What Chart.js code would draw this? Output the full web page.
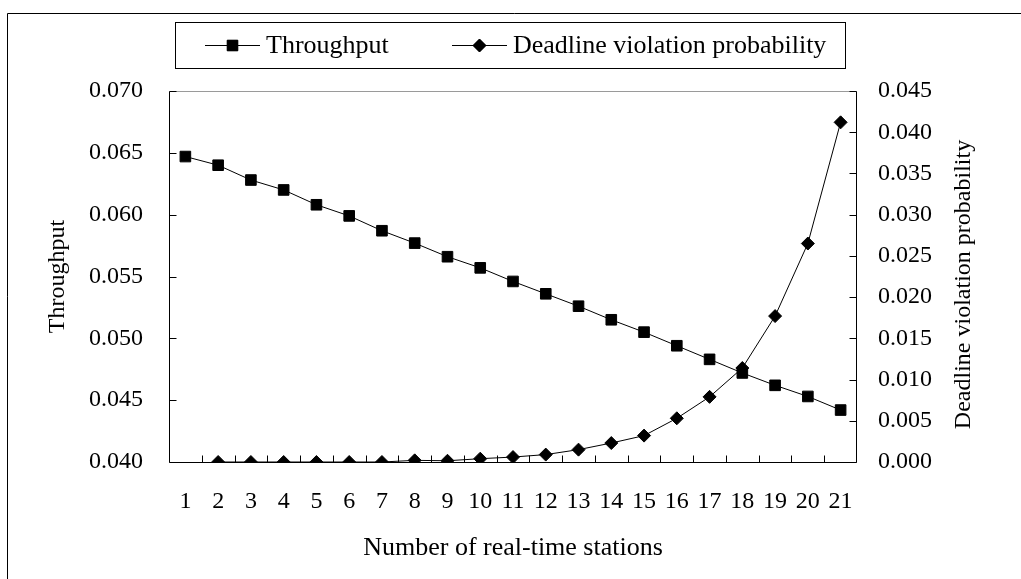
<!DOCTYPE html>
<html>
<head>
<meta charset="utf-8">
<script src="https://cdn.jsdelivr.net/npm/chart.js@4"></script>
<style>
  html, body { margin: 0; padding: 0; background: #fff; overflow: hidden; }
  #wrap { width: 1021px; height: 579px; position: relative; }
</style>
</head>
<body>
<div id="wrap"><canvas id="chart" width="1021" height="579"></canvas></div>
<script>
// number of real-time stations (x categories)
const stations = ['1', '2', '3', '4', '5', '6', '7', '8', '9', '10', '11',
  '12', '13', '14', '15', '16', '17', '18', '19', '20', '21'];

// left axis series
const throughput = [0.0647, 0.0640, 0.0628, 0.0620, 0.0608, 0.0599, 0.0587,
  0.0577, 0.0566, 0.0557, 0.0546, 0.0536, 0.0526, 0.0515, 0.0505, 0.0494,
  0.0483, 0.0472, 0.0462, 0.0453, 0.0442];

// right axis series (no value for 1 station)
const violation = [null, 0, 0, 0, 0, 0, 0, 0.0002, 0.00015, 0.0004, 0.0006,
  0.0009, 0.0015, 0.0023, 0.0032, 0.0053, 0.0079, 0.0114, 0.0177, 0.0265,
  0.0412];

const leftTicks = [0.040, 0.045, 0.050, 0.055, 0.060, 0.065, 0.070];
const rightTicks = [0.000, 0.005, 0.010, 0.015, 0.020, 0.025, 0.030, 0.035, 0.040, 0.045];

const FONT = "'Liberation Serif', 'Times New Roman', serif";
Chart.defaults.font.family = FONT;
Chart.defaults.color = '#000';

// axes lines, inside tick marks, legend box, right title, outer frame
const framePlugin = {
    id: 'frame',
    beforeDatasetsDraw(chart) {
        const { ctx, chartArea: a, scales } = chart;
        const L = Math.round(a.left) + 0.5, R = Math.round(a.right) - 0.5;
        const T = Math.round(a.top) + 0.5, B = Math.round(a.bottom) + 0.5;
        ctx.save();
        ctx.lineWidth = 1;
        // top edge is a light grey line
        ctx.strokeStyle = '#9a9a9a';
        ctx.beginPath(); ctx.moveTo(L, T); ctx.lineTo(R, T); ctx.stroke();
        ctx.strokeStyle = '#000';
        ctx.beginPath();
        ctx.moveTo(L, T); ctx.lineTo(L, B); ctx.lineTo(R, B); ctx.lineTo(R, T);
        // left ticks
        scales.y.ticks.forEach(t => {
            const py = Math.round(scales.y.getPixelForValue(t.value)) + 0.5;
            ctx.moveTo(L, py); ctx.lineTo(L + 7, py);
        });
        // right ticks
        scales.y1.ticks.forEach(t => {
            const py = Math.round(scales.y1.getPixelForValue(t.value)) + 0.5;
            ctx.moveTo(R, py); ctx.lineTo(R - 7, py);
        });
        // bottom ticks between categories
        for (let i = 1; i < stations.length; i++) {
            const px = Math.round(scales.x.getPixelForValue(i - 0.5)) + 0.5;
            ctx.moveTo(px, B); ctx.lineTo(px, B - 7);
        }
        ctx.stroke();
        ctx.restore();
    },
    afterDraw(chart) {
        const { ctx, scales } = chart;
        ctx.save();
        ctx.strokeStyle = '#000';
        ctx.lineWidth = 1;
        // outer frame (left and top visible)
        ctx.beginPath();
        ctx.moveTo(7.5, 579); ctx.lineTo(7.5, 13.5); ctx.lineTo(1021, 13.5);
        ctx.stroke();

        // legend
        ctx.strokeRect(175.5, 22.5, 670, 46);
        const starts = [205, 452];
        const ly = 45.5;
        ctx.font = '26px ' + FONT;
        ctx.textBaseline = 'middle';
        ctx.textAlign = 'left';
        ctx.fillStyle = '#000';
        chart.data.datasets.forEach((ds, i) => {
            const sx = starts[i];
            ctx.beginPath();
            ctx.moveTo(sx, ly); ctx.lineTo(sx + 55, ly);
            ctx.stroke();
            Chart.helpers.drawPoint(ctx, {
                pointStyle: ds.pointStyle,
                radius: ds.pointRadius,
                rotation: 0,
                borderWidth: 1
            }, sx + 27.5, ly);
            ctx.fill();
            ctx.fillText(ds.label, sx + 61, ly + 1);
        });

        // right axis title, reading bottom to top
        const y1 = scales.y1;
        ctx.translate(964, (y1.top + y1.bottom) / 2 + 8);
        ctx.rotate(-Math.PI / 2);
        ctx.textAlign = 'center';
        ctx.font = '24px ' + FONT;
        ctx.fillText('Deadline violation probability', 0, 0);
        ctx.restore();
    }
};

const ctx = document.getElementById('chart').getContext('2d');
new Chart(ctx, {
    type: 'line',
    data: {
        labels: stations,
        datasets: [{
            label: 'Throughput',
            data: throughput,
            yAxisID: 'y',
            borderColor: '#000',
            backgroundColor: '#000',
            borderWidth: 1,
            pointStyle: 'rect',
            pointRadius: 7.5,
            pointBorderWidth: 1,
            tension: 0
        }, {
            label: 'Deadline violation probability',
            data: violation,
            yAxisID: 'y1',
            borderColor: '#000',
            backgroundColor: '#000',
            borderWidth: 1,
            pointStyle: 'rectRot',
            pointRadius: 6.5,
            pointBorderWidth: 1,
            tension: 0
        }]
    },
    options: {
        responsive: false,
        animation: false,
        layout: { padding: { top: 91, left: 0, right: 0, bottom: 0 } },
        plugins: {
            legend: { display: false },
            tooltip: { enabled: false }
        },
        scales: {
            x: {
                type: 'category',
                offset: true,
                grid: { display: false, drawTicks: false },
                border: { display: false },
                ticks: { autoSkip: false, maxRotation: 0, padding: 25, font: { size: 24 } },
                title: {
                    display: true,
                    text: 'Number of real-time stations',
                    font: { size: 26 },
                    padding: { top: 0, bottom: 15 }
                },
                afterFit: s => { s.height = 117; }
            },
            y: {
                position: 'left',
                min: leftTicks[0],
                max: leftTicks[leftTicks.length - 1],
                grid: { display: false, drawTicks: false },
                border: { display: false },
                ticks: {
                    stepSize: 0.005,
                    padding: 26,
                    font: { size: 24 },
                    callback: v => v.toFixed(3)
                },
                title: {
                    display: true,
                    text: 'Throughput',
                    font: { size: 24 },
                    padding: { top: 43, bottom: 0 }
                },
                afterFit: s => { s.width = 169; }
            },
            y1: {
                position: 'right',
                min: rightTicks[0],
                max: rightTicks[rightTicks.length - 1],
                grid: { display: false, drawTicks: false },
                border: { display: false },
                ticks: {
                    stepSize: 0.005,
                    padding: 21,
                    font: { size: 24 },
                    callback: v => v.toFixed(3)
                },
                afterFit: s => { s.width = 164; }
            }
        }
    },
    plugins: [framePlugin]
});
</script>
</body>
</html>
